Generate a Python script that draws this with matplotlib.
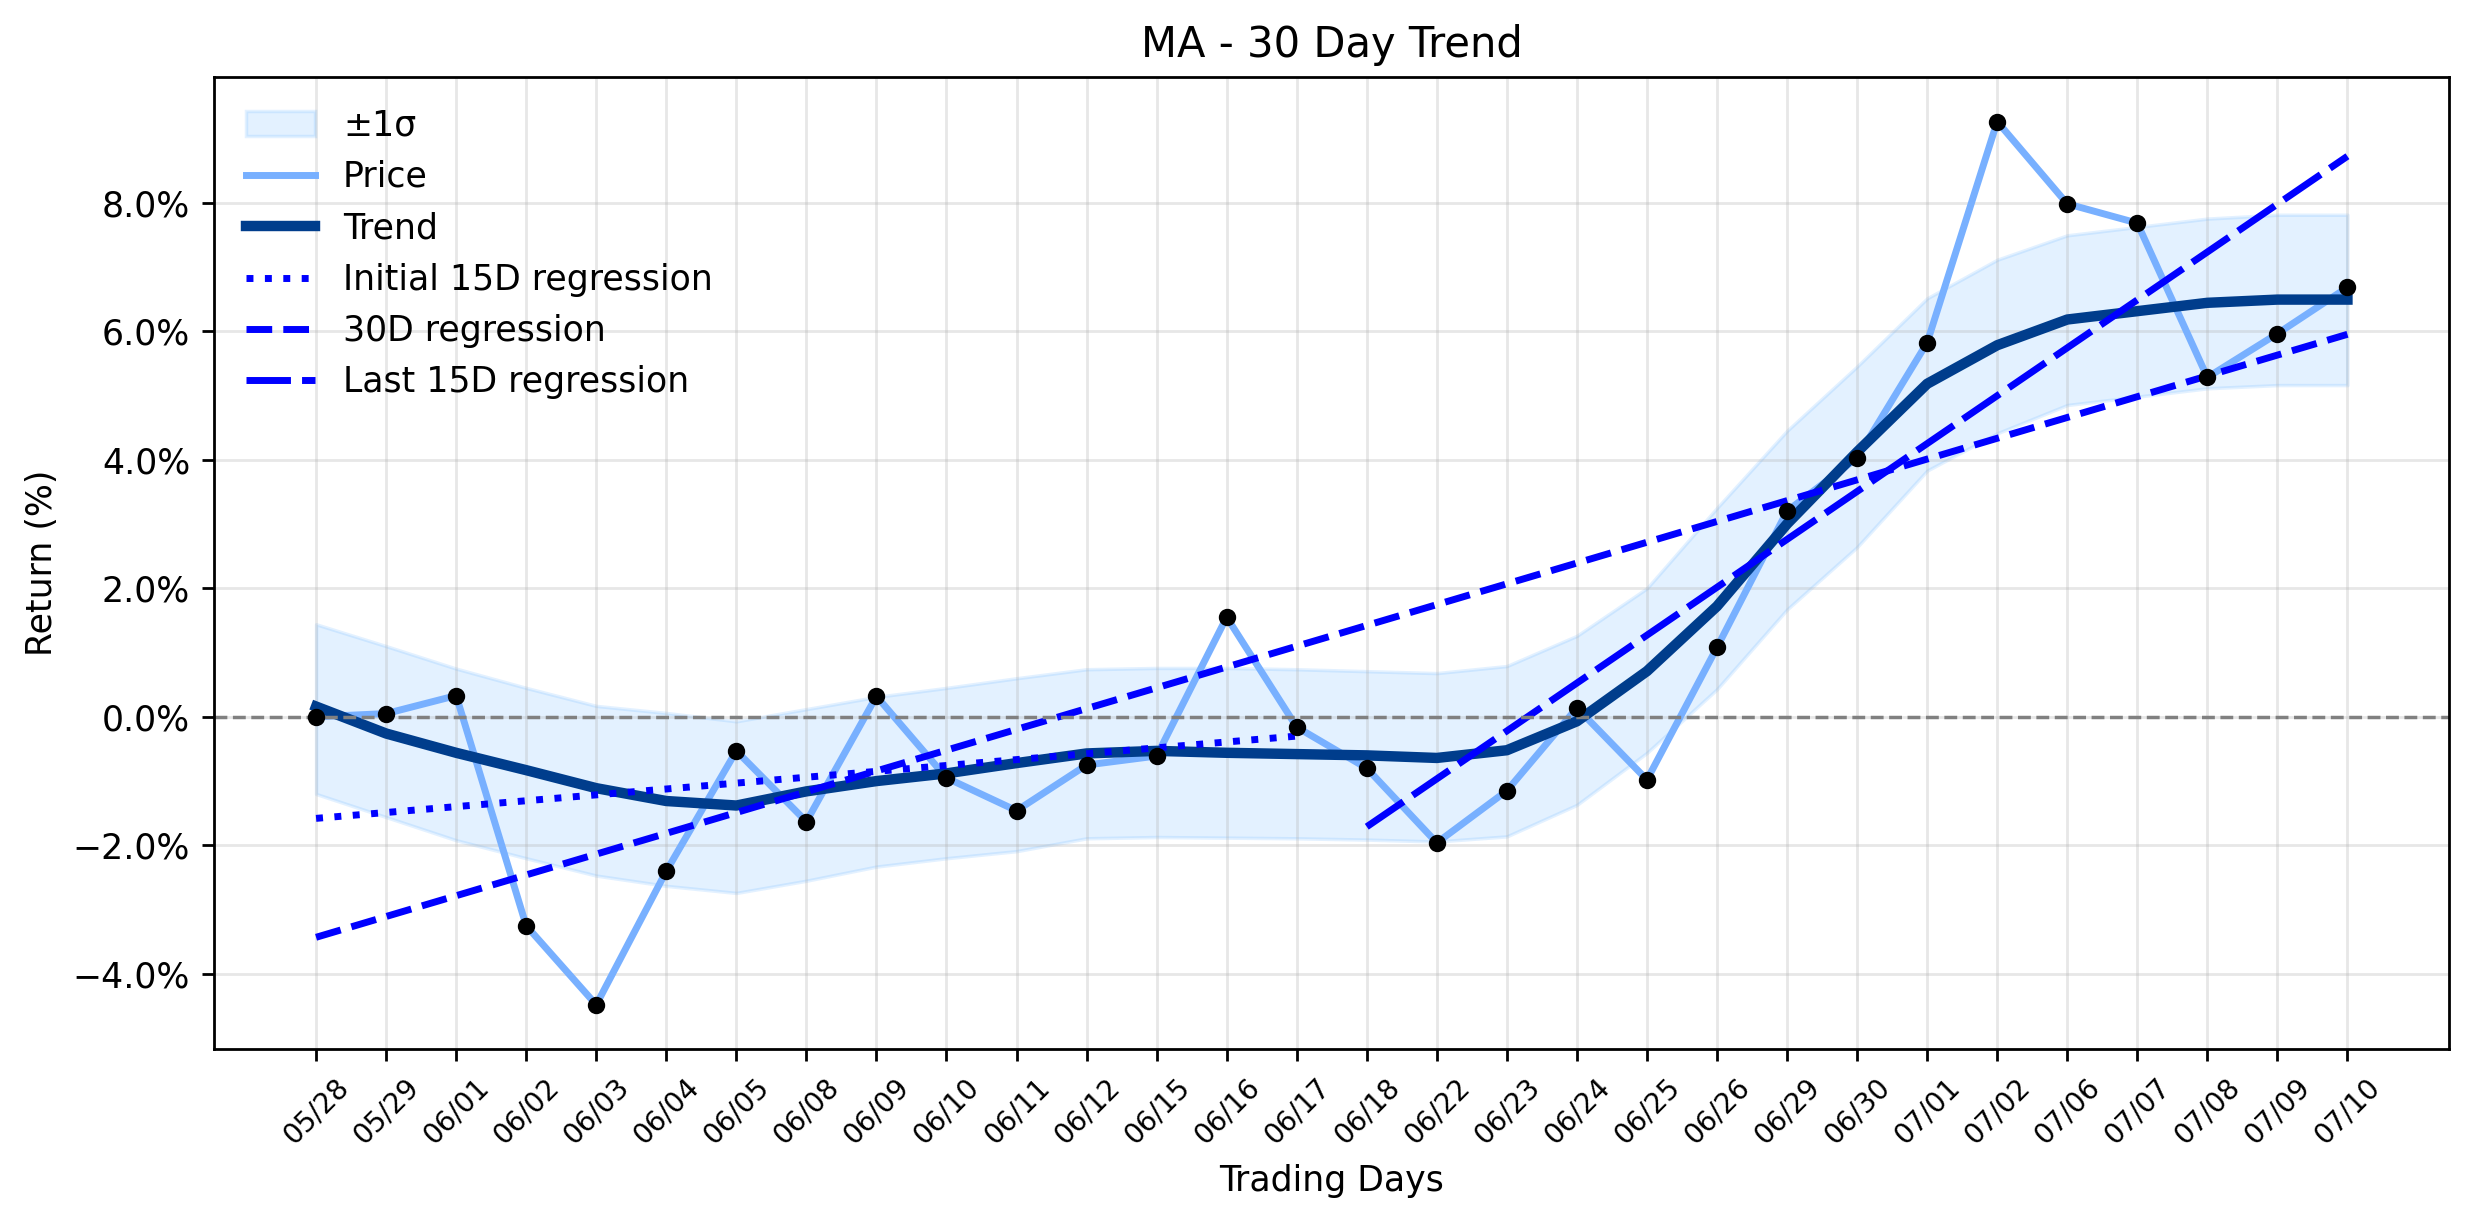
import matplotlib

matplotlib.use("Agg")
import matplotlib.pyplot as plt
import matplotlib.ticker as mtick


DATES = [
    "05/28", "05/29", "06/01", "06/02", "06/03", "06/04", "06/05", "06/08",
    "06/09", "06/10", "06/11", "06/12", "06/15", "06/16", "06/17", "06/18",
    "06/22", "06/23", "06/24", "06/25", "06/26", "06/29", "06/30", "07/01",
    "07/02", "07/06", "07/07", "07/08", "07/09", "07/10",
]

# cumulative return, in percent
PRICE = [
    0.00, 0.05, 0.33, -3.25, -4.48, -2.40, -0.53, -1.63,
    0.32, -0.95, -1.46, -0.75, -0.61, 1.55, -0.16, -0.80,
    -1.96, -1.15, 0.14, -0.98, 1.08, 3.20, 4.03, 5.82,
    9.26, 7.98, 7.68, 5.28, 5.96, 6.68,
]

TREND = [
    0.16, -0.26, -0.56, -0.83, -1.11, -1.31, -1.38, -1.16,
    -1.00, -0.88, -0.72, -0.57, -0.53, -0.56, -0.58, -0.60,
    -0.64, -0.52, -0.07, 0.71, 1.72, 3.00, 4.12, 5.18,
    5.78, 6.18, 6.31, 6.44, 6.49, 6.49,
]

BAND_UPPER = [
    1.44, 1.10, 0.75, 0.45, 0.17, 0.06, -0.07, 0.12,
    0.31, 0.45, 0.60, 0.74, 0.76, 0.76, 0.74, 0.71,
    0.68, 0.79, 1.26, 2.00, 3.25, 4.45, 5.45, 6.51,
    7.11, 7.49, 7.62, 7.75, 7.81, 7.81,
]

BAND_LOWER = [
    -1.20, -1.56, -1.92, -2.20, -2.47, -2.63, -2.74, -2.55,
    -2.33, -2.20, -2.09, -1.89, -1.87, -1.88, -1.89, -1.91,
    -1.94, -1.86, -1.37, -0.56, 0.43, 1.67, 2.64, 3.83,
    4.41, 4.85, 4.98, 5.11, 5.16, 5.16,
]

# regression lines: (start index, end index) and (start value, end value)
INIT15_IDX = [0, 14]
INIT15_VAL = [-1.58, -0.30]
REG30_IDX = [0, 29]
REG30_VAL = [-3.43, 5.95]
LAST15_IDX = [15, 29]
LAST15_VAL = [-1.71, 8.72]


def plot_trend():
    fig, ax = plt.subplots(figsize=(2474 / 250, 1224 / 250), dpi=250)
    fig.subplots_adjust(left=0.0867, right=0.9899, top=0.9368, bottom=0.1430)

    x = list(range(len(DATES)))

    band = ax.fill_between(x, BAND_LOWER, BAND_UPPER, color="dodgerblue",
                           alpha=0.12, label="±1σ")
    price, = ax.plot(x, PRICE, color="#78b0ff", linewidth=2, label="Price")
    trend, = ax.plot(x, TREND, color="#003d8c", linewidth=3, label="Trend")
    init15, = ax.plot(INIT15_IDX, INIT15_VAL, color="blue", linestyle=":",
                      linewidth=2, label="Initial 15D regression")
    reg30, = ax.plot(REG30_IDX, REG30_VAL, color="blue", linestyle="--",
                     linewidth=2, label="30D regression")
    last15, = ax.plot(LAST15_IDX, LAST15_VAL, color="blue",
                      linestyle=(0, (6.4, 1.6)), linewidth=2,
                      label="Last 15D regression")
    ax.scatter(x, PRICE, color="black", s=16, zorder=5)

    ax.axhline(0, color="gray", linestyle="--", linewidth=1)

    ax.set_title("MA - 30 Day Trend", fontsize=12)
    ax.set_xlabel("Trading Days", fontsize=10)
    ax.set_ylabel("Return (%)", fontsize=10)
    ax.yaxis.set_major_formatter(mtick.PercentFormatter(xmax=100, decimals=1))
    ax.set_xticks(x)
    ax.set_xticklabels(DATES, rotation=45, fontsize=8)
    ax.grid(True, alpha=0.3)

    ax.legend(handles=[band, price, trend, init15, reg30, last15],
              loc="upper left", frameon=False, fontsize=10)

    fig.savefig("out.png", dpi=250)


def main():
    plot_trend()


if __name__ == "__main__":
    main()
